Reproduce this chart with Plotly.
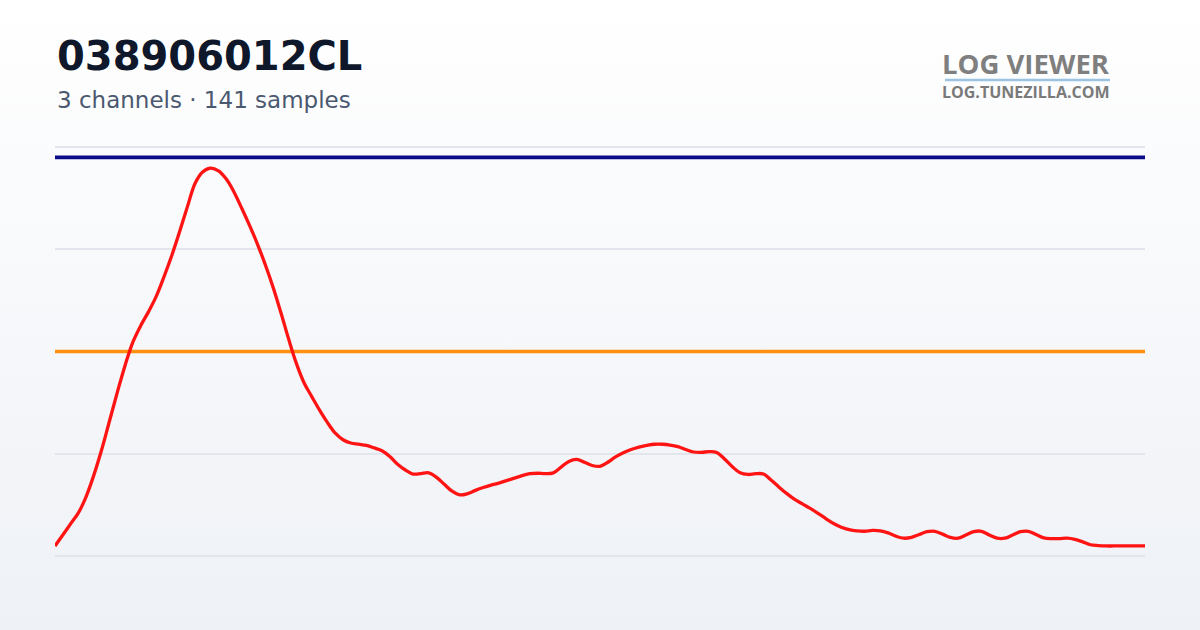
import base64
import plotly.graph_objects as go

# ---- data ----
sample_idx = list(range(141))
red_vals = [
    2.4, 5.1, 7.8, 10.5, 14.5, 19.8, 26.0, 33.0, 40.0, 46.6,
    52.3, 56.3, 59.7, 63.5, 68.3, 73.5, 79.3, 85.4, 91.2, 94.0,
    94.9, 94.2, 92.2, 89.0, 85.0, 80.8, 76.3, 71.3, 65.8, 59.6,
    53.1, 47.1, 42.3, 38.9, 35.6, 32.6, 30.0, 28.4, 27.6, 27.3,
    27.0, 26.4, 25.7, 24.3, 22.4, 21.0, 20.0, 20.1, 20.3, 19.2,
    17.5, 15.8, 14.9, 15.2, 16.0, 16.7, 17.3, 17.8, 18.4, 19.0,
    19.6, 20.1, 20.2, 20.1, 20.3, 21.7, 23.1, 23.6, 22.9, 22.1,
    21.9, 22.9, 24.2, 25.2, 26.0, 26.6, 27.0, 27.3, 27.3, 27.1,
    26.7, 26.0, 25.4, 25.3, 25.5, 25.3, 23.7, 21.8, 20.3, 19.9,
    20.1, 20.0, 18.5, 16.8, 15.2, 13.8, 12.7, 11.6, 10.4, 9.1,
    7.9, 7.0, 6.4, 6.1, 6.0, 6.2, 6.1, 5.6, 4.8, 4.3,
    4.5, 5.2, 5.9, 6.0, 5.3, 4.5, 4.3, 5.1, 5.9, 6.0,
    5.1, 4.3, 4.3, 5.1, 5.9, 6.0, 5.2, 4.4, 4.2, 4.2,
    4.3, 4.0, 3.4, 2.7, 2.5, 2.4, 2.4, 2.4, 2.4, 2.4,
    2.4,
]
navy_vals = [97.5] * 141
orange_vals = [50.0] * 141
y_ticks = [0, 25, 50, 75, 100]

title_text = "038906012CL"
subtitle_text = "3 channels · 141 samples"
logo_main = "LOG VIEWER"
logo_sub = "LOG.TUNEZILLA.COM"

# ---- layout geometry ----
W, H = 1200, 630
L, R, T, B = 55, 55, 146, 73
PW, PH = W - L - R, H - T - B


def px_x(x):
    return (x - L) / PW


def px_y(y):
    return (H - B - y) / PH


fig = go.Figure()
fig.add_trace(go.Scatter(x=sample_idx, y=navy_vals, mode="lines",
                         line=dict(color="#0c0c8a", width=3.8), hoverinfo="skip"))
fig.add_trace(go.Scatter(x=sample_idx, y=orange_vals, mode="lines",
                         line=dict(color="#ff9010", width=3.3), hoverinfo="skip"))
fig.add_trace(go.Scatter(x=sample_idx, y=red_vals, mode="lines",
                         line=dict(color="#ff1414", width=3.3, shape="spline", smoothing=1.0),
                         hoverinfo="skip"))

svg = ('<svg xmlns="http://www.w3.org/2000/svg" width="10" height="100" preserveAspectRatio="none">'
       '<defs><linearGradient id="g" x1="0" y1="0" x2="0" y2="1">'
       '<stop offset="0" stop-color="#ffffff"/><stop offset="1" stop-color="#eef1f6"/>'
       '</linearGradient></defs><rect width="10" height="100" fill="url(#g)"/></svg>')
src = "data:image/svg+xml;base64," + base64.b64encode(svg.encode()).decode()

fig.update_layout(
    width=W, height=H,
    margin=dict(l=L, r=R, t=T, b=B, pad=0),
    paper_bgcolor="#f6f7fa",
    plot_bgcolor="rgba(0,0,0,0)",
    showlegend=False,
    images=[dict(source=src, xref="paper", yref="paper",
                 x=px_x(0), y=px_y(0), sizex=W / PW, sizey=H / PH,
                 xanchor="left", yanchor="top", sizing="stretch", layer="below")],
    xaxis=dict(range=[0, 140], showgrid=False, zeroline=False, showticklabels=False,
               showline=False, ticks=""),
    yaxis=dict(range=[-0.3, 100.3], tickvals=y_ticks, showgrid=True, gridcolor="#e2e5eb",
               gridwidth=1.6, zeroline=False, showticklabels=False, showline=False, ticks=""),
    font=dict(family="DejaVu Sans"),
)

annotations = [
    dict(text="<b>%s</b>" % title_text, x=px_x(55), y=px_y(56), xanchor="left", yanchor="middle",
         font=dict(family="DejaVu Sans", size=40, color="#0f172a")),
    dict(text=subtitle_text, x=px_x(55), y=px_y(100), xanchor="left", yanchor="middle",
         font=dict(family="DejaVu Sans", size=23, color="#4a5870")),
    dict(text="<b>%s</b>" % logo_main, x=px_x(1112), y=px_y(63.5), xanchor="right", yanchor="middle",
         height=24, font=dict(family="Open Sans", size=27.5, color="#7f7f7f")),
    dict(text="<b>%s</b>" % logo_sub, x=px_x(1112), y=px_y(91.5), xanchor="right", yanchor="middle",
         height=14, font=dict(family="Open Sans", size=16, color="#7a7a7a")),
]
for a in annotations:
    a.update(xref="paper", yref="paper", showarrow=False)
fig.update_layout(annotations=annotations)

fig.add_shape(type="line", xref="paper", yref="paper",
              x0=px_x(945), x1=px_x(1110), y0=px_y(80), y1=px_y(80),
              line=dict(color="#9dc3e2", width=2.5))

fig.write_html("out.html", config={"displayModeBar": False},
               post_script="document.body.style.margin='0';")
